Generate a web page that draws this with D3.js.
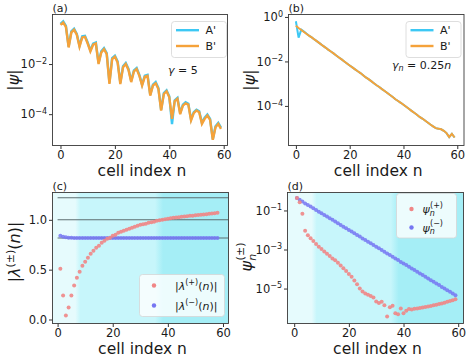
<!DOCTYPE html>
<html>
<head>
<meta charset="UTF-8" />
<style>
  body { margin: 0; background: #fff; }
  svg text { font-family: "DejaVu Sans", sans-serif; fill: #1a1a1a; }
</style>
</head>
<body>
<svg id="fig" width="469" height="358"></svg>
<script src="https://d3js.org/d3.v7.min.js"></script>
<script>
// ---- data ----
// (a) gamma = 5, cells 0..59
const psiA_a = [0.40, 0.50, 0.33, 0.050, 0.20, 0.255, 0.16, 0.054, 0.127, 0.134,
                0.072, 0.035, 0.065, 0.072, 0.011, 0.032, 0.043, 0.027, 0.0018, 0.0174,
                0.0214, 0.0128, 0.0018, 0.0081, 0.011, 0.0064, 0.0021, 0.0056, 0.0069, 0.0037,
                0.0015, 0.0034, 0.0037, 6.0e-4, 1.5e-3, 1.9e-3, 1.1e-3, 1.5e-4, 7.0e-4, 9.0e-4,
                5.2e-4, 4.0e-5, 3.6e-4, 4.5e-4, 1.1e-4, 2.4e-4, 3.0e-4, 2.6e-4, 6.2e-5, 1.2e-4,
                1.5e-4, 1.3e-4, 4.5e-5, 7.2e-5, 9.7e-5, 6.5e-5, 1.0e-5, 3.3e-5, 4.5e-5, 2.9e-5];
const psiB_a = [0.366, 0.454, 0.305, 0.046, 0.182, 0.232, 0.147, 0.049, 0.115, 0.122,
                0.066, 0.032, 0.059, 0.066, 0.010, 0.029, 0.039, 0.025, 0.0016, 0.0158,
                0.0195, 0.0116, 0.0016, 0.0074, 0.010, 0.0058, 0.0019, 0.0051, 0.0063, 0.0034,
                0.0014, 0.0031, 0.0034, 5.5e-4, 1.4e-3, 1.7e-3, 1.0e-3, 1.4e-4, 6.4e-4, 8.2e-4,
                4.7e-4, 6.5e-5, 3.3e-4, 4.1e-4, 1.0e-4, 2.2e-4, 2.7e-4, 2.4e-4, 5.6e-5, 1.1e-4,
                1.4e-4, 1.2e-4, 4.1e-5, 6.5e-5, 8.8e-5, 5.9e-5, 9.5e-6, 3.0e-5, 4.1e-5, 2.6e-5];
// (b) gamma_n = 0.25 n
const psiA_b = [0.64, 0.117, 0.27, 0.22, 0.175, 0.14, 0.117, 0.095, 0.078, 0.063,
                0.051, 0.042, 0.034, 0.028, 0.023, 0.0186, 0.0151, 0.0123, 0.0100, 0.0081,
                0.0066, 0.0054, 0.0044, 0.0036, 0.0030, 0.0024, 0.0019, 0.0016, 0.0013, 0.00105,
                8.5e-4, 7.1e-4, 5.7e-4, 4.7e-4, 3.8e-4, 3.1e-4, 2.5e-4, 2.0e-4, 1.66e-4, 1.38e-4,
                1.12e-4, 9.1e-5, 7.4e-5, 6.0e-5, 4.9e-5, 4.0e-5, 3.2e-5, 2.7e-5, 2.2e-5, 1.8e-5,
                1.45e-5, 1.2e-5, 1.0e-5, 9.5e-6, 8.9e-6, 7.6e-6, 6.0e-6, 4.0e-6, 5.5e-6, 3.8e-6];
const psiB_b = [0.40, 0.32, 0.26, 0.21, 0.17, 0.14, 0.117, 0.095, 0.078, 0.063,
                0.051, 0.042, 0.034, 0.028, 0.023, 0.0186, 0.0151, 0.0123, 0.0100, 0.0081,
                0.0066, 0.0054, 0.0044, 0.0036, 0.0030, 0.0024, 0.0019, 0.0016, 0.0013, 0.00105,
                8.5e-4, 7.1e-4, 5.7e-4, 4.7e-4, 3.8e-4, 3.1e-4, 2.5e-4, 2.0e-4, 1.66e-4, 1.38e-4,
                1.12e-4, 9.1e-5, 7.4e-5, 6.0e-5, 4.9e-5, 4.0e-5, 3.2e-5, 2.7e-5, 2.2e-5, 1.8e-5,
                1.45e-5, 1.2e-5, 1.0e-5, 9.5e-6, 8.9e-6, 7.6e-6, 6.0e-6, 4.0e-6, 5.5e-6, 3.8e-6];
const cells = d3.range(0, 60);

// (c) |lambda(+-)(n)|, n = 1..58
const lamN = d3.range(1, 59);
const lamPlus = [0.51, 0.24, 0.04, 0.12, 0.24, 0.34, 0.42, 0.48, 0.54, 0.58,
                 0.62, 0.66, 0.69, 0.72, 0.74, 0.77, 0.79, 0.81, 0.82, 0.84,
                 0.85, 0.87, 0.88, 0.89, 0.90, 0.91, 0.92, 0.93, 0.94, 0.95,
                 0.955, 0.96, 0.97, 0.975, 0.98, 0.99, 0.995, 1.0, 1.005, 1.01,
                 1.015, 1.02, 1.022, 1.025, 1.03, 1.033, 1.036, 1.04, 1.042, 1.045,
                 1.048, 1.05, 1.053, 1.056, 1.06, 1.063, 1.066, 1.07];
const lamMinus = [0.84, 0.83, 0.825, 0.82, 0.819, 0.818, 0.818, 0.818, 0.818, 0.818,
                  0.818, 0.818, 0.818, 0.818, 0.818, 0.818, 0.818, 0.818, 0.818, 0.818,
                  0.818, 0.818, 0.818, 0.818, 0.818, 0.818, 0.818, 0.818, 0.818, 0.818,
                  0.818, 0.818, 0.818, 0.818, 0.818, 0.818, 0.818, 0.818, 0.818, 0.818,
                  0.818, 0.818, 0.818, 0.818, 0.818, 0.818, 0.818, 0.818, 0.818, 0.818,
                  0.818, 0.818, 0.818, 0.818, 0.818, 0.818, 0.818, 0.818];
const lamRefs = [1.222, 1.0, 0.817];

// (d) psi_n(+-), n = 1..59
const psiN = d3.range(1, 60);
const psiPlus = [0.43, 0.26, 0.068, 9.1e-3, 5.4e-3, 3.8e-3, 2.7e-3, 1.9e-3, 1.4e-3, 1.05e-3,
                 7.9e-4, 6.0e-4, 4.6e-4, 3.5e-4, 2.8e-4, 2.1e-4, 1.5e-4, 1.1e-4, 7.9e-5, 5.6e-5,
                 4.0e-5, 2.6e-5, 1.66e-5, 1.0e-5, 7.1e-6, 5.6e-6, 4.8e-6, 4.2e-6, 3.5e-6, 2.2e-6,
                 1.8e-6, 2.1e-6, 1.4e-6, 3.7e-7, 1.1e-6, 1.3e-6, 5.5e-7, 4.9e-7, 9.5e-7, 5.5e-7,
                 7.4e-7, 9.1e-7, 8.5e-7, 9.3e-7, 9.5e-7, 1.0e-6, 1.07e-6, 1.12e-6, 1.2e-6, 1.29e-6,
                 1.38e-6, 1.48e-6, 1.62e-6, 1.74e-6, 1.9e-6, 2.1e-6, 2.3e-6, 2.5e-6, 2.8e-6];
const psiMinus = [0.43, 0.35, 0.29, 0.23, 0.19, 0.16, 0.13, 0.107, 0.087, 0.072,
                  0.059, 0.049, 0.040, 0.033, 0.027, 0.022, 0.018, 0.0148, 0.0122, 0.0100,
                  0.0083, 0.0068, 0.0055, 0.0046, 0.0037, 0.0031, 0.0025, 0.0021, 0.0017, 0.00138,
                  0.00115, 9.3e-4, 7.7e-4, 6.3e-4, 5.2e-4, 4.3e-4, 3.5e-4, 2.9e-4, 2.3e-4, 1.9e-4,
                  1.6e-4, 1.3e-4, 1.07e-4, 8.8e-5, 7.2e-5, 5.9e-5, 4.9e-5, 4.0e-5, 3.3e-5, 2.7e-5,
                  2.2e-5, 1.8e-5, 1.5e-5, 1.2e-5, 1.0e-5, 8.3e-6, 6.8e-6, 5.5e-6, 4.6e-6];

// shaded regions in (c),(d): cell index where the colour changes
const bandEdges = [7.5, 36.8];
const bandColors = ["#e6fbfd", "#c7f6fb", "#a5eef6"];

const xTicks = [0, 20, 40, 60];
const colA = "#3cc8f4", colB = "#f5a23a";
const colPlus = "#f08686", colMinus = "#7676f2";

const svg = d3.select("#fig");
svg.append("rect").attr("width", 469).attr("height", 358).attr("fill", "#fff");
const defs = svg.append("defs");

function setupPanel(id, box, xs, ys) {
  defs.append("clipPath").attr("id", "clip-" + id)
    .append("rect").attr("x", box.x0).attr("y", box.y0)
    .attr("width", box.x1 - box.x0).attr("height", box.y1 - box.y0);
  const g = svg.append("g");
  const plot = g.append("g").attr("clip-path", `url(#clip-${id})`);
  return { g, plot };
}

function drawFrame(p, box, xs, ys, yTickVals, logY, letter) {
  const ax = p.g.append("g").attr("transform", `translate(0,${box.y1})`)
    .call(d3.axisBottom(xs).tickValues(xTicks).tickSize(3.5).tickPadding(2));
  ax.select(".domain").remove();
  ax.selectAll("text").attr("font-size", 11.5).attr("font-family", "DejaVu Sans");
  ax.selectAll("line").attr("stroke", "#333");

  const ay = p.g.append("g").attr("transform", `translate(${box.x0},0)`)
    .call(d3.axisLeft(ys).tickValues(yTickVals).tickSize(3.5).tickPadding(2)
      .tickFormat(logY ? "" : d3.format(".1f")));
  ay.select(".domain").remove();
  ay.selectAll("line").attr("stroke", "#333");
  ay.selectAll("text").attr("font-size", 11.5).attr("font-family", "DejaVu Sans");
  if (logY) {
    ay.selectAll(".tick text").each(function (d) {
      const t = d3.select(this);
      const e = Math.round(Math.log10(d));
      t.text("10");
      t.append("tspan").attr("dy", "-0.55em").attr("font-size", 8)
        .text(e < 0 ? "\u2212" + (-e) : String(e));
    });
  }
  p.g.append("rect").attr("x", box.x0).attr("y", box.y0)
    .attr("width", box.x1 - box.x0).attr("height", box.y1 - box.y0)
    .attr("fill", "none").attr("stroke", "#3a3a3a").attr("stroke-width", 0.9);
  p.g.append("text").attr("x", box.x0).attr("y", box.y0 - 2.5)
    .attr("font-size", 11).text(letter);
  p.g.append("text").attr("x", (box.x0 + box.x1) / 2 + 2).attr("y", box.y1 + 30)
    .attr("text-anchor", "middle").attr("font-size", 15.5).text("cell index n");
}

function lineLegend(g, x, y) {
  g.append("rect").attr("x", x).attr("y", y).attr("width", 55).attr("height", 36)
    .attr("rx", 3).attr("fill", "#fff").attr("fill-opacity", 0.85)
    .attr("stroke", "#d6d6d6").attr("stroke-width", 0.8);
  [["A'", colA], ["B'", colB]].forEach(([lab, c], i) => {
    const yy = y + 8.7 + i * 15.8;
    g.append("line").attr("x1", x + 4.5).attr("x2", x + 27.5).attr("y1", yy).attr("y2", yy)
      .attr("stroke", c).attr("stroke-width", 2.4);
    g.append("text").attr("x", x + 34).attr("y", yy + 4).attr("font-size", 11).text(lab);
  });
}

function yLabel(g, x, y, build) {
  const t = g.append("text").attr("transform", `translate(${x},${y}) rotate(-90)`)
    .attr("text-anchor", "middle").attr("font-size", 16);
  build(t);
}

// ---------- (a) ----------
{
  const box = { x0: 52.5, x1: 227.5, y0: 14.5, y1: 145.5 };
  const xs = d3.scaleLinear().domain([-2.93, 61.4]).range([box.x0, box.x1]);
  const ys = d3.scaleLog().domain([Math.pow(10, -5.25), Math.pow(10, -0.024)]).range([box.y1, box.y0]);
  const p = setupPanel("a", box, xs, ys);
  const line = d3.line().x((d, i) => xs(cells[i])).y(d => ys(d));
  p.plot.append("path").attr("d", line(psiA_a)).attr("fill", "none").attr("stroke", colA).attr("stroke-width", 2.4);
  p.plot.append("path").attr("d", line(psiB_a)).attr("fill", "none").attr("stroke", colB).attr("stroke-width", 2.4);
  drawFrame(p, box, xs, ys, [1e-2, 1e-4], true, "(a)");
  lineLegend(p.g, 171.5, 21.5);
  const gt = p.g.append("text").attr("x", 168).attr("y", 74).attr("font-size", 11);
  gt.append("tspan").attr("font-style", "italic").text("\u03b3");
  gt.append("tspan").text(" = 5");
  yLabel(p.g, 19, 80, t => t.text("|\u03c8|").attr("font-style", "italic"));
}

// ---------- (b) ----------
{
  const box = { x0: 288.5, x1: 464, y0: 14.5, y1: 145.5 };
  const xs = d3.scaleLinear().domain([-2.75, 62.5]).range([box.x0, box.x1]);
  const ys = d3.scaleLog().domain([Math.pow(10, -5.78), Math.pow(10, 0.11)]).range([box.y1, box.y0]);
  const p = setupPanel("b", box, xs, ys);
  const line = d3.line().x((d, i) => xs(cells[i])).y(d => ys(d));
  p.plot.append("path").attr("d", line(psiA_b)).attr("fill", "none").attr("stroke", colA).attr("stroke-width", 2);
  p.plot.append("path").attr("d", line(psiB_b)).attr("fill", "none").attr("stroke", colB).attr("stroke-width", 2);
  drawFrame(p, box, xs, ys, [1, 1e-2, 1e-4], true, "(b)");
  lineLegend(p.g, 406, 21.5);
  const gt = p.g.append("text").attr("x", 392).attr("y", 69).attr("font-size", 11);
  gt.append("tspan").attr("font-style", "italic").text("\u03b3");
  gt.append("tspan").attr("font-style", "italic").attr("font-size", 8).attr("dy", 2).text("n");
  gt.append("tspan").attr("dy", -2).text(" = 0.25");
  gt.append("tspan").attr("font-style", "italic").text("n");
  yLabel(p.g, 255, 80, t => t.text("|\u03c8|").attr("font-style", "italic"));
}

function shadeBands(id, p, box, xs) {
  const grad = defs.append("linearGradient").attr("id", "band-" + id)
    .attr("gradientUnits", "userSpaceOnUse")
    .attr("x1", box.x0).attr("x2", box.x1).attr("y1", 0).attr("y2", 0);
  const w = box.x1 - box.x0;
  const stops = [
    [box.x0, bandColors[0]],
    [xs(bandEdges[0]) - 3, bandColors[0]],
    [xs(bandEdges[0]) + 2, bandColors[1]],
    [xs(bandEdges[1]) - 4, bandColors[1]],
    [xs(bandEdges[1]) + 4, bandColors[2]],
    [box.x1, bandColors[2]]
  ];
  stops.forEach(([px, c]) => grad.append("stop").attr("offset", (px - box.x0) / w).attr("stop-color", c));
  p.plot.append("rect").attr("x", box.x0).attr("y", box.y0)
    .attr("width", w).attr("height", box.y1 - box.y0).attr("fill", `url(#band-${id})`);
}

// ---------- (c) ----------
{
  const box = { x0: 52.5, x1: 228.5, y0: 192.5, y1: 323.5 };
  const xs = d3.scaleLinear().domain([-1.85, 62.0]).range([box.x0, box.x1]);
  const ys = d3.scaleLinear().domain([-0.04, 1.274]).range([box.y1, box.y0]);
  const p = setupPanel("c", box, xs, ys);
  shadeBands("c", p, box, xs);
  p.plot.selectAll(".ref").data(lamRefs).join("line")
    .attr("x1", xs(0)).attr("x2", xs(62)).attr("y1", d => ys(d)).attr("y2", d => ys(d))
    .attr("stroke", "#5e6e70").attr("stroke-width", 1.1);
  p.plot.selectAll(".lm").data(lamMinus).join("circle")
    .attr("cx", (d, i) => xs(lamN[i])).attr("cy", d => ys(d)).attr("r", 2)
    .attr("fill", colMinus).attr("fill-opacity", 0.85);
  p.plot.selectAll(".lp").data(lamPlus).join("circle")
    .attr("cx", (d, i) => xs(lamN[i])).attr("cy", d => ys(d)).attr("r", 2)
    .attr("fill", colPlus).attr("fill-opacity", 0.9);
  drawFrame(p, box, xs, ys, [0, 0.5, 1.0], false, "(c)");
  // legend
  const lg = p.g.append("g");
  lg.append("rect").attr("x", 139.5).attr("y", 274.5).attr("width", 85).attr("height", 42)
    .attr("rx", 3).attr("fill", "#fff").attr("fill-opacity", 0.8)
    .attr("stroke", "#d6d6d6").attr("stroke-width", 0.8);
  [["+", colPlus], ["\u2212", colMinus]].forEach(([s, c], i) => {
    const yy = 285.5 + i * 20;
    lg.append("circle").attr("cx", 154).attr("cy", yy).attr("r", 2.2).attr("fill", c);
    const t = lg.append("text").attr("x", 175).attr("y", yy + 4).attr("font-size", 11);
    t.append("tspan").text("|");
    t.append("tspan").attr("font-style", "italic").text("\u03bb");
    t.append("tspan").attr("font-size", 8).attr("dy", -4.5).text("(" + s + ")");
    t.append("tspan").attr("dy", 4.5).text("(");
    t.append("tspan").attr("font-style", "italic").text("n");
    t.append("tspan").text(")|");
  });
  yLabel(p.g, 20, 252, t => {
    t.append("tspan").text("|");
    t.append("tspan").attr("font-style", "italic").text("\u03bb");
    t.append("tspan").attr("font-size", 11).attr("dy", -6).text("(\u00b1)");
    t.append("tspan").attr("dy", 6).text("(");
    t.append("tspan").attr("font-style", "italic").text("n");
    t.append("tspan").text(")|");
  });
}

// ---------- (d) ----------
{
  const box = { x0: 287.5, x1: 463.5, y0: 192.5, y1: 323.5 };
  const xs = d3.scaleLinear().domain([-2.45, 61.94]).range([box.x0, box.x1]);
  const ys = d3.scaleLog().domain([Math.pow(10, -6.79), Math.pow(10, -0.08)]).range([box.y1, box.y0]);
  const p = setupPanel("d", box, xs, ys);
  shadeBands("d", p, box, xs);
  p.plot.selectAll(".pm").data(psiMinus).join("circle")
    .attr("cx", (d, i) => xs(psiN[i])).attr("cy", d => ys(d)).attr("r", 2)
    .attr("fill", colMinus).attr("fill-opacity", 0.85);
  p.plot.selectAll(".pp").data(psiPlus).join("circle")
    .attr("cx", (d, i) => xs(psiN[i])).attr("cy", d => ys(d)).attr("r", 2)
    .attr("fill", colPlus).attr("fill-opacity", 0.9);
  drawFrame(p, box, xs, ys, [1e-1, 1e-3, 1e-5], true, "(d)");
  const lg = p.g.append("g");
  lg.append("rect").attr("x", 396.5).attr("y", 193.5).attr("width", 60).attr("height", 44.5)
    .attr("rx", 3).attr("fill", "#fff").attr("fill-opacity", 0.8)
    .attr("stroke", "#d6d6d6").attr("stroke-width", 0.8);
  [["+", colPlus], ["\u2212", colMinus]].forEach(([s, c], i) => {
    const yy = 209 + i * 18.5;
    lg.append("circle").attr("cx", 411.5).attr("cy", yy).attr("r", 2.2).attr("fill", c);
    const t = lg.append("text").attr("x", 422.5).attr("y", yy + 4).attr("font-size", 11);
    t.append("tspan").attr("font-style", "italic").text("\u03c8");
    t.append("tspan").attr("font-style", "italic").attr("font-size", 8).attr("dy", 2.5).text("n");
    t.append("tspan").attr("font-size", 8).attr("dx", -4.8).attr("dy", -8).text("(" + s + ")");
  });
  yLabel(p.g, 252, 257, t => {
    t.append("tspan").attr("font-style", "italic").text("\u03c8");
    t.append("tspan").attr("font-style", "italic").attr("font-size", 11).attr("dy", 4).text("n");
    t.append("tspan").attr("font-size", 11).attr("dx", -6.5).attr("dy", -12).text("(\u00b1)");
  });
}
</script>
</body>
</html>
